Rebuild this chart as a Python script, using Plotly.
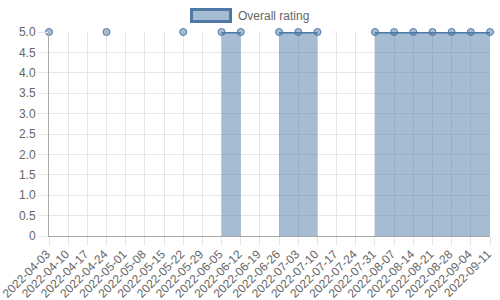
import plotly.graph_objects as go

dates = ["2022-04-03", "2022-04-10", "2022-04-17", "2022-04-24", "2022-05-01", "2022-05-08",
         "2022-05-15", "2022-05-22", "2022-05-29", "2022-06-05", "2022-06-12", "2022-06-19",
         "2022-06-26", "2022-07-03", "2022-07-10", "2022-07-17", "2022-07-24", "2022-07-31",
         "2022-08-07", "2022-08-14", "2022-08-21", "2022-08-28", "2022-09-04", "2022-09-11"]
ratings = [5.0, None, None, 5.0, None, None, None, 5.0, None, 5.0, 5.0, None,
           5.0, 5.0, 5.0, None, None, 5.0, 5.0, 5.0, 5.0, 5.0, 5.0, 5.0]
series_name = "Overall rating"
y_ticks = [0, 0.5, 1, 1.5, 2, 2.5, 3, 3.5, 4, 4.5, 5]
y_ticktext = ["0", "0.5", "1.0", "1.5", "2.0", "2.5", "3.0", "3.5", "4.0", "4.5", "5.0"]

LINE = "rgb(78,121,167)"
FILL = "rgba(78,121,167,0.5)"
FONT = "Liberation Sans, Arial, sans-serif"
W, H = 500, 300
L, R, T, B = 49, 10, 32, 64
pw, ph = W - L - R, H - T - B

def px(x):
    return (x - L) / pw

def py(y):
    return (H - B - y) / ph

# contiguous runs of non-null values (each filled separately, like a gap-aware area)
runs = []
cur = []
for d, v in zip(dates, ratings):
    if v is None:
        if cur:
            runs.append(cur)
        cur = []
    else:
        cur.append((d, v))
if cur:
    runs.append(cur)

fig = go.Figure()
for run in runs:
    if len(run) < 2:
        continue
    fig.add_trace(go.Scatter(
        x=[d for d, _ in run], y=[v for _, v in run], mode="lines",
        fill="tozeroy", fillcolor=FILL, line=dict(color=LINE, width=3),
        cliponaxis=False, showlegend=False, hoverinfo="skip",
    ))
fig.add_trace(go.Scatter(
    x=dates, y=ratings, mode="markers", name=series_name,
    marker=dict(size=7, color=FILL, line=dict(color=LINE, width=1)),
    cliponaxis=False, showlegend=False,
))

fig.update_layout(
    width=W, height=H,
    margin=dict(l=L, r=R, t=T, b=B),
    paper_bgcolor="white", plot_bgcolor="white",
    font=dict(family=FONT, size=12, color="#666"),
    xaxis=dict(
        type="category", range=[0, len(dates) - 1],
        categoryorder="array", categoryarray=dates,
        tickvals=dates, ticktext=[d + "\u00a0" for d in dates],
        showgrid=True, gridcolor="#e6e6e6", gridwidth=1,
        ticks="outside", ticklen=9, tickcolor="#e6e6e6",
        tickangle=-45, tickfont=dict(size=12, color="#666"),
        ticklabelstandoff=-6,
        showline=True, linecolor="#aaa", linewidth=1,
        zeroline=False, automargin=False,
    ),
    yaxis=dict(
        range=[0, 5], tickvals=y_ticks, ticktext=y_ticktext,
        showgrid=True, gridcolor="#e6e6e6", gridwidth=1,
        ticks="outside", ticklen=10, tickcolor="#e6e6e6",
        tickfont=dict(size=12, color="#666"),
        showline=True, linecolor="#aaa", linewidth=1,
        zeroline=False, automargin=False,
    ),
    shapes=[dict(
        type="rect", xref="paper", yref="paper",
        x0=px(191.5), x1=px(230.5), y0=py(21.5), y1=py(9.5),
        fillcolor=FILL, line=dict(color=LINE, width=3),
    )],
    annotations=[dict(
        text=series_name, xref="paper", yref="paper",
        x=px(236), y=py(15.5), xanchor="left", yanchor="middle",
        showarrow=False, font=dict(family=FONT, size=12, color="#666"),
    )],
)

fig.write_html("out.html")
